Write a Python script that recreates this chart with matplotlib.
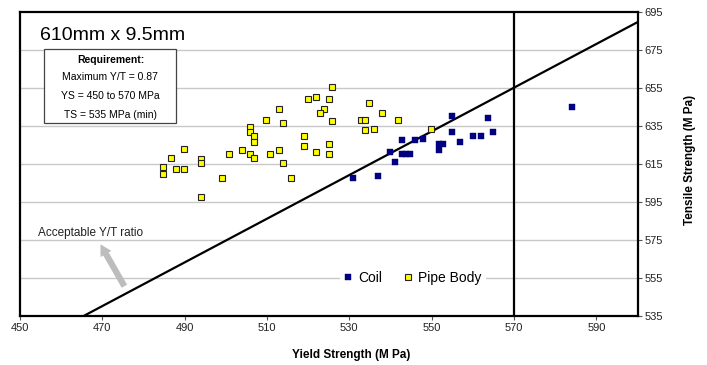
import numpy as np
import matplotlib
matplotlib.use("Agg")
import matplotlib.pyplot as plt

plt.rcParams['font.family'] = ['Liberation Sans', 'DejaVu Sans']

# pipe body tests (yield, tensile) in MPa
pipe_ys = [525.9, 520.0, 521.8, 525.0, 512.9, 523.8, 522.9, 509.8, 513.9, 525.9,
           505.8, 505.8, 506.9, 506.9, 518.9, 518.9, 525.0, 489.8, 503.9, 512.9,
           486.8, 500.8, 505.8, 506.9, 510.8, 521.8, 525.0, 494.0, 494.0, 484.8,
           484.8, 487.8, 489.8, 513.9, 499.0, 515.9, 494.0, 534.8, 537.9, 532.8,
           533.9, 541.9, 533.9, 536.0, 549.8]
pipe_ts = [655.4, 649.3, 650.3, 649.3, 643.9, 643.9, 641.6, 638.2, 636.5, 637.4,
           634.7, 631.8, 629.7, 626.5, 629.7, 624.4, 625.5, 623.0, 622.5, 622.5,
           618.4, 620.4, 620.4, 618.4, 620.4, 621.3, 620.4, 617.8, 615.3, 613.2,
           609.5, 612.3, 612.3, 615.3, 607.6, 607.6, 597.4, 647.3, 641.6, 638.1,
           638.1, 638.1, 633.0, 633.2, 633.2]

# coil tests
coil_ys = [531.0, 536.9, 539.9, 541.0, 542.9, 542.9, 543.8, 544.8, 545.9, 547.8,
           551.8, 552.8, 551.8, 555.0, 555.0, 557.0, 560.0, 561.9, 563.8, 565.0,
           584.0]
coil_ts = [607.6, 608.5, 621.3, 616.2, 627.4, 620.4, 620.4, 620.4, 627.4, 628.3,
           625.5, 625.5, 622.6, 640.2, 631.6, 626.5, 629.5, 629.5, 639.3, 631.6,
           645.2]

max_yt = 0.87
ys_limit = 570
ratio_ys = np.array([465, 600])

x_ticks = [450, 470, 490, 510, 530, 550, 570, 590]
y_ticks = [535, 555, 575, 595, 615, 635, 655, 675, 695]

req_lines = ["Maximum Y/T = 0.87", "YS = 450 to 570 MPa", "TS = 535 MPa (min)"]

fig = plt.figure(figsize=(7.07, 3.65), dpi=100)
ax = fig.add_axes([20 / 707, 1 - 316 / 365, 617.5 / 707, 304 / 365])

ax.set_xlim(450, 600)
ax.set_ylim(535, 695)
ax.set_xticks(x_ticks)
ax.set_yticks(y_ticks)
ax.yaxis.tick_right()
ax.yaxis.set_label_position('right')
ax.tick_params(axis='both', labelsize=8, length=3, width=0.8, color='#555555',
               labelcolor='#222222', pad=2)

for y in y_ticks[1:-1]:
    ax.axhline(y, color='#c8c8c8', lw=1.0, zorder=0)

for s in ax.spines.values():
    s.set_linewidth(1.6)
    s.set_color('black')

# Y/T limit line and maximum yield strength
ax.plot(ratio_ys, ratio_ys / max_yt, color='black', lw=1.6, zorder=2)
ax.plot([ys_limit, ys_limit], [536, 695], color='black', lw=1.6, zorder=2)

ax.plot(coil_ys, coil_ts, ls='none', marker='s', ms=4.6, mfc='#000080',
        mec='#000080', mew=0.3, label='Coil', zorder=3)
ax.plot(pipe_ys, pipe_ts, ls='none', marker='s', ms=5.0, mfc='#ffff00',
        mec='#222222', mew=0.8, label='Pipe Body', zorder=4)

leg = ax.legend(loc='center', bbox_to_anchor=(0.636, 0.125), ncol=2, fontsize=10,
                frameon=True, facecolor='white', edgecolor='none', framealpha=1,
                handlelength=0.6, handletextpad=0.4, columnspacing=1.6,
                borderpad=0.3, markerscale=0.9)

ax.set_xlabel("Yield Strength (M Pa)", fontsize=8.5, fontweight='bold')
ax.xaxis.set_label_coords(0.536, -0.108)
ax.set_ylabel("Tensile Strength (M Pa)", fontsize=8.5, fontweight='bold')
ax.yaxis.set_label_coords(1.076, 0.513)

ax.text(0.032, 0.924, "610mm x 9.5mm", transform=ax.transAxes, fontsize=14,
        ha='left', va='center')

# requirement box
box = plt.Rectangle((0.0384, 0.634), 0.2142, 0.245, transform=ax.transAxes,
                    facecolor='white', edgecolor='#444444', lw=0.9, zorder=5)
ax.add_patch(box)
ax.text(0.1464, 0.842, "Requirement:", transform=ax.transAxes, fontsize=7.5,
        fontweight='bold', ha='center', va='center', zorder=6)
for i, line in enumerate(req_lines):
    ax.text(0.1464, 0.785 - i * 0.062, line, transform=ax.transAxes, fontsize=7.5,
            ha='center', va='center', zorder=6)

ax.annotate("", xy=(469.2, 574.0), xytext=(475.7, 549.4),
            arrowprops=dict(arrowstyle='simple,head_width=0.9,head_length=0.8,tail_width=0.45',
                            color='#bdbdbd', lw=0))
ax.text(454.4, 578.7, "Acceptable Y/T ratio", fontsize=8.5, color='#222222',
        ha='left', va='center')

fig.savefig("out.png", dpi=100, facecolor='white')
